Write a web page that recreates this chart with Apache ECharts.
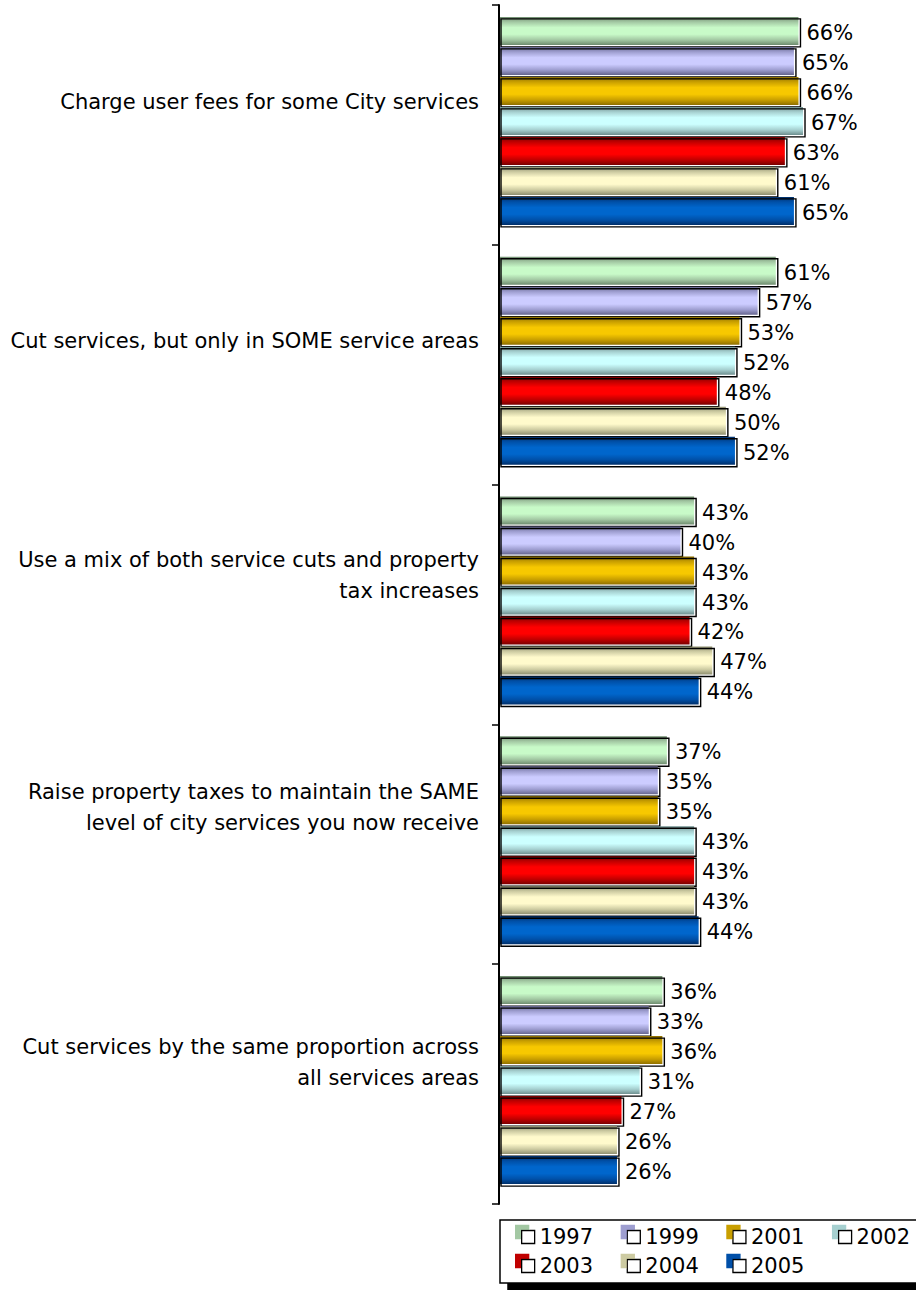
<!DOCTYPE html>
<html>
<head>
<meta charset="utf-8">
<style>
  html, body { margin: 0; padding: 0; background: #fff; }
  #chart { width: 916px; height: 1290px; }
</style>
<script src="https://cdn.jsdelivr.net/npm/echarts@6/dist/echarts.min.js"></script>
</head>
<body>
<div id="chart"></div>
<script>
// Survey options (top to bottom)
const categories = [
  "Charge user fees for some City services",
  "Cut services, but only in SOME service areas",
  "Use a mix of both service cuts and property\ntax increases",
  "Raise property taxes to maintain the SAME\nlevel of city services you now receive",
  "Cut services by the same proportion across\nall services areas"
];

const years = ["1997", "1999", "2001", "2002", "2003", "2004", "2005"];

// Percent in favour, one array per survey year (same order as categories)
const v1997 = [66, 61, 43, 37, 36];
const v1999 = [65, 57, 40, 35, 33];
const v2001 = [66, 53, 43, 35, 36];
const v2002 = [67, 52, 43, 43, 31];
const v2003 = [63, 48, 42, 43, 27];
const v2004 = [61, 50, 47, 43, 26];
const v2005 = [65, 52, 44, 44, 26];
const seriesValues = [v1997, v1999, v2001, v2002, v2003, v2004, v2005];

// Cylinder shading per year: [edge, mid, highlight]
const palette = [
  ["#6f8c6f", "#a3c8a3", "#c8fac8"],
  ["#66668f", "#9e9ed0", "#ccccff"],
  ["#8f6f00", "#c99f00", "#f7c800"],
  ["#6f8f8f", "#a6d0d0", "#ccffff"],
  ["#7a0000", "#c00000", "#ff0000"],
  ["#8f8f70", "#cdcba2", "#fffacc"],
  ["#002f6a", "#0050a8", "#0066cc"]
];

// Vertical nudges for the category labels (px, negative = up)
const labelShift = [-23, -24, -29, -37, -22];

const FONT = '"DejaVu Sans", Verdana, sans-serif';
const chart = echarts.init(document.getElementById('chart'), null, { renderer: 'svg' });

const NS = years.length;

function makeRender(sIdx) {
  const c = palette[sIdx];
  return function (params, api) {
    const val = api.value(0);
    const ci = api.value(1);
    const base = api.coord([0, ci]);
    const end = api.coord([val, ci]);
    const band = api.size([0, 1])[1];
    const pitch = band * 0.1251;
    const bh = pitch - 2;
    const top = base[1] - (NS * pitch) / 2 + sIdx * pitch - 3;
    const w = end[0] - base[0];
    const grad = new echarts.graphic.LinearGradient(0, 0, 0, 1, [
      { offset: 0, color: c[0] },
      { offset: 0.18, color: c[1] },
      { offset: 0.38, color: c[2] },
      { offset: 0.62, color: c[2] },
      { offset: 0.82, color: c[1] },
      { offset: 1, color: c[0] }
    ]);
    return {
      type: 'group',
      children: [
        { type: 'rect', shape: { x: base[0], y: top, width: w, height: bh }, style: { fill: grad } },
        { type: 'rect', shape: { x: base[0] + 2, y: top + 2, width: w, height: bh },
          style: { fill: 'none', stroke: '#000', lineWidth: 1.4 } },
        { type: 'text', style: {
            text: val + '%', x: end[0] + 8, y: top + bh / 2 + 2,
            align: 'left', verticalAlign: 'middle',
            fill: '#000', font: '21px ' + FONT
          } }
      ]
    };
  };
}

const series = years.map((y, s) => ({
  name: y,
  type: 'custom',
  coordinateSystem: 'cartesian2d',
  encode: { x: 0, y: 1 },
  itemStyle: { color: palette[s][1] },
  renderItem: makeRender(s),
  data: seriesValues[s].map((v, i) => [v, i]),
  z: 2
}));

// Rich styles used to shift each category label vertically
const rich = { t: { fontFamily: FONT, fontSize: 21, lineHeight: 31, color: '#000', align: 'right' } };
labelShift.forEach((d, i) => { rich['p' + i] = { height: -2 * d, lineHeight: -2 * d, fontSize: 1 }; });

chart.setOption({
  backgroundColor: '#fff',
  animation: false,
  grid: { left: 499, top: 5, width: 363, height: 1199, containLabel: false },
  xAxis: {
    type: 'value', min: 0, max: 80, show: false
  },
  yAxis: {
    type: 'category',
    inverse: true,
    data: categories,
    boundaryGap: true,
    axisLine: { show: true, lineStyle: { color: '#000', width: 2 } },
    axisTick: { show: true, inside: false, length: 7, lineStyle: { color: '#000', width: 1.5 } },
    axisLabel: {
      margin: 20,
      align: 'right',
      formatter: function (value, idx) {
        const lines = value.split('\n').map(l => '{t|' + l + '}');
        return lines.join('\n') + '\n{p' + idx + '| }';
      },
      rich: rich
    },
    splitLine: { show: false },
    z: 5
  },
  legend: {
    left: 500,
    top: 1220,
    width: 420,
    orient: 'horizontal',
    padding: [5, 70, 5, 21],
    itemGap: 5,
    itemWidth: 13,
    itemHeight: 13,
    backgroundColor: '#fff',
    borderColor: '#000',
    borderWidth: 1.5,
    borderRadius: 0,
    shadowColor: '#000',
    shadowBlur: 0,
    shadowOffsetX: 8,
    shadowOffsetY: 7,
    textStyle: { fontFamily: FONT, fontSize: 21, color: '#000', width: 82, lineHeight: 24 },
    data: years.map((y, s) => ({
      name: y,
      icon: 'rect',
      itemStyle: {
        color: '#fff', borderColor: '#000', borderWidth: 1.3,
        shadowColor: palette[s][1], shadowBlur: 0, shadowOffsetX: -6, shadowOffsetY: -5
      }
    }))
  },
  series: series
});
</script>
</body>
</html>
